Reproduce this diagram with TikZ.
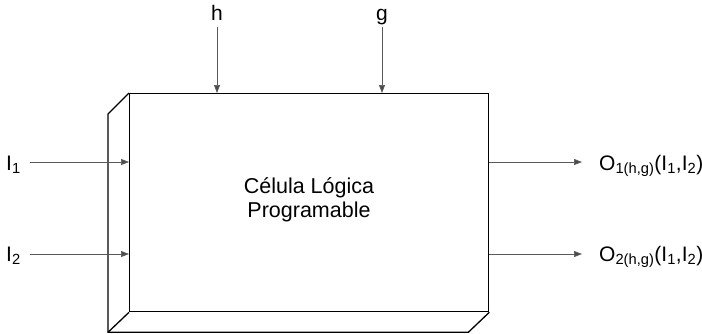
\documentclass[tikz,border=0pt]{standalone}
\usepackage{fontspec}
\setmainfont{Liberation Sans}
\usetikzlibrary{arrows.meta}
\begin{document}
\begin{tikzpicture}[x=1pt,y=-1pt,
  box/.style={draw=black, line width=1.3pt, line join=miter},
  sig/.style={draw=black!65, line width=0.7pt, -{Triangle[length=8pt,width=6pt,fill=black!70]}},
  lbl/.style={font=\fontsize{21}{25}\selectfont, inner sep=2pt, text height=15pt, text depth=5pt}]
\useasboundingbox (0,0) rectangle (702,333);
% front face
\node[box, minimum width=359pt, minimum height=218pt, inner sep=0pt, anchor=north west] (cell) at (129,93) {};
\node[align=center, font=\fontsize{21.5}{24}\selectfont, inner sep=0pt, anchor=base] (txt) at (309,217) {Célula Lógica\\Programable};
% extrusion toward lower left
\coordinate (btl) at ([shift={(-21,21)}]cell.north west);
\coordinate (bbl) at ([shift={(-21,20)}]cell.south west);
\coordinate (bbr) at ([shift={(-21,20)}]cell.south east);
\draw[box] (cell.north west) -- (btl) -- (bbl) -- (bbr) -- (cell.south east);
\draw[box] (cell.south west) -- (bbl);
% top inputs
\node[lbl, anchor=base] (h) at (217,20) {h};
\node[lbl, anchor=base] (g) at (382,20) {g};
\draw[sig] (h.south) -- (h.south |- cell.north);
\draw[sig] (g.south) -- (g.south |- cell.north);
% left inputs
\node[lbl, anchor=base west] (I1) at (4,170) {I\textsubscript{1}};
\node[lbl, anchor=base west] (I2) at (4,261) {I\textsubscript{2}};
\coordinate (i1s) at (30,162);
\coordinate (i2s) at (30,254);
\draw[sig] (i1s) -- (i1s -| cell.west);
\draw[sig] (i2s) -- (i2s -| cell.west);
% outputs
\coordinate (o1e) at (582,162);
\coordinate (o2e) at (582,254);
\draw[sig] (o1e -| cell.east) -- (o1e);
\draw[sig] (o2e -| cell.east) -- (o2e);
\node[lbl, anchor=base west] (O1) at (597,170) {O\textsubscript{1(h,g)}(I\textsubscript{1},I\textsubscript{2})};
\node[lbl, anchor=base west] (O2) at (597,261) {O\textsubscript{2(h,g)}(I\textsubscript{1},I\textsubscript{2})};
\end{tikzpicture}
\end{document}
